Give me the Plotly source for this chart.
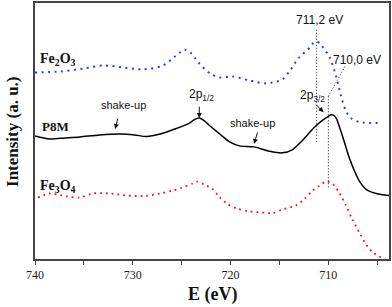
import plotly.graph_objects as go

# Binding energy (eV) and intensity (a.u.)
fe2o3_e = [740.0, 737.4, 735.0, 733.0, 730.9, 729.0, 726.9, 725.7, 725.2, 724.7, 724.1, 723.6, 723.2, 722.1,
           721.1, 719.8, 718.1, 716.4, 714.7, 714.0, 713.0, 711.9, 711.6, 711.2, 710.8, 710.6, 709.9, 709.2,
           708.7, 708.2, 707.7, 706.8, 704.5]
fe2o3_i = [188, 189, 192, 195, 193, 191, 195, 204, 208, 211, 208, 202, 197, 187,
           183, 184, 180, 177, 181, 189, 203, 213, 217, 219, 217, 214, 204, 184,
           164, 149, 142, 138, 137]

p8m_e = [740.0, 738.5, 736.9, 735.4, 733.4, 731.3, 729.8, 728.6, 727.2, 725.7, 724.2, 723.7, 723.2,
         722.7, 722.1, 721.1, 720.1, 719.1, 717.6, 716.0, 714.7, 713.7, 712.7, 711.6, 710.9, 710.2,
         709.6, 709.2, 708.9, 708.4, 707.9, 707.3, 706.8, 706.1, 705.1, 703.8]
p8m_i = [124, 121, 122, 123, 125, 126, 125, 123.5, 126, 131, 137, 140.5, 142,
         139.5, 134, 126, 118, 114, 113, 108.5, 107, 110, 119, 131, 137.5, 142.5,
         145.5, 142, 134, 119, 103, 88, 78, 70, 66, 64]

fe3o4_e = [739.7, 738.5, 736.7, 735.4, 734.1, 732.3, 730.6, 728.8, 727.2, 725.9, 724.9, 723.9,
           723.4, 722.7, 721.9, 721.1, 720.4, 719.4, 718.1, 716.3, 715.7, 714.7, 713.3, 712.4,
           711.6, 710.9, 710.2, 709.6, 708.9, 708.2, 707.6, 706.8, 706.1, 705.5, 704.8, 704.2]
fe3o4_i = [62, 66, 63, 62, 66, 66, 64, 63.5, 66, 69, 72, 76,
           78, 75, 71, 62, 56, 51, 48, 46.5, 46, 50, 54, 61,
           69, 74, 78, 76, 67, 54, 41, 26, 14, 7, 2.5, 1]

x_ticks = [740, 730, 720, 710]
x_minor = [735, 725, 715, 705]

serif = "Liberation Serif"
sans = "Liberation Sans"

fig = go.Figure()
fig.add_trace(go.Scatter(x=fe2o3_e, y=fe2o3_i, mode="lines", line=dict(color="#2a3cf0", width=2, dash="2px,4.5px", shape="spline", smoothing=0.8), showlegend=False))
fig.add_trace(go.Scatter(x=p8m_e, y=p8m_i, mode="lines", line=dict(color="black", width=1.5, shape="spline", smoothing=0.8), showlegend=False))
fig.add_trace(go.Scatter(x=fe3o4_e, y=fe3o4_i, mode="lines", line=dict(color="#f01818", width=1.8, dash="1.8px,4px", shape="spline", smoothing=0.8), showlegend=False))

# reference lines
fig.add_shape(type="line", x0=711.2, x1=711.2, y0=231, y1=116, line=dict(color="#222", width=1, dash="1px,2px"))
fig.add_shape(type="line", x0=710.0, x1=710.0, y0=164, y1=71, line=dict(color="#222", width=1, dash="1px,2px"))
fig.add_shape(type="line", x0=710.0, x1=708.3, y0=164, y1=194, line=dict(color="#222", width=1, dash="1px,2px"))

def lab(x, y, text, font, size, bold=False, anchor="center"):
    fig.add_annotation(x=x, y=y, text=("<b>%s</b>" % text) if bold else text, showarrow=False,
                       xanchor=anchor, yanchor="middle", font=dict(family=font, size=size, color="#111"))

def arrow(x_tail, y_tail, x_tip, y_tip):
    fig.add_annotation(x=x_tip, y=y_tip, ax=x_tail, ay=y_tail, axref="x", ayref="y", text="",
                       showarrow=True, arrowhead=2, arrowsize=1, arrowwidth=1, arrowcolor="#111")

lab(739.7, 201, "Fe<sub>2</sub>O<sub>3</sub>", serif, 14, True, "left")
lab(739.5, 134, "P8M", serif, 13, True, "left")
lab(739.7, 73, "Fe<sub>3</sub>O<sub>4</sub>", serif, 14, True, "left")
lab(731.0, 155, "shake-up", sans, 11)
arrow(731.5, 143, 731.8, 131)
lab(723.0, 165, "2p<sub>1/2</sub>", sans, 12)
arrow(723.2, 155, 723.2, 142)
lab(717.8, 137, "shake-up", sans, 11)
arrow(717.2, 129, 717.6, 116)
lab(711.6, 164, "2p<sub>3/2</sub>", sans, 12)
arrow(711.4, 157, 710.5, 148)
lab(710.9, 241, "711,2 eV", sans, 12)
lab(707.1, 201, "710,0 eV", sans, 12)

fig.add_annotation(x=0.5, y=-0.14, xref="paper", yref="paper", xanchor="center", yanchor="middle",
                   text="<b>E (eV)</b>", showarrow=False, font=dict(family=serif, size=18, color="#111"))
fig.add_annotation(x=-0.065, y=0.5, xref="paper", yref="paper", xanchor="center", yanchor="middle",
                   text="<b>Intensity (a. u.)</b>", textangle=-90, showarrow=False,
                   font=dict(family=serif, size=17, color="#111"))

fig.update_xaxes(range=[740, 703.8], tickvals=x_ticks, ticktext=[str(v) for v in x_ticks],
                 ticks="outside", ticklen=4, tickcolor="#444", showgrid=False, zeroline=False,
                 showline=True, linecolor="#444", linewidth=1.5, mirror=True,
                 tickfont=dict(family=serif, size=12, color="#222"),
                 minor=dict(tickvals=x_minor, ticks="outside", ticklen=4, tickcolor="#444"))
fig.update_yaxes(range=[0, 258], showticklabels=False, ticks="", showgrid=False, zeroline=False,
                 showline=True, linecolor="#444", linewidth=1.5, mirror=True)
fig.update_layout(width=392, height=307, margin=dict(l=35, r=2, t=1, b=48),
                  plot_bgcolor="white", paper_bgcolor="white")
fig.write_html("out.html", config={"displayModeBar": False},
               post_script="document.body.style.margin='0';document.body.style.padding='0';")
